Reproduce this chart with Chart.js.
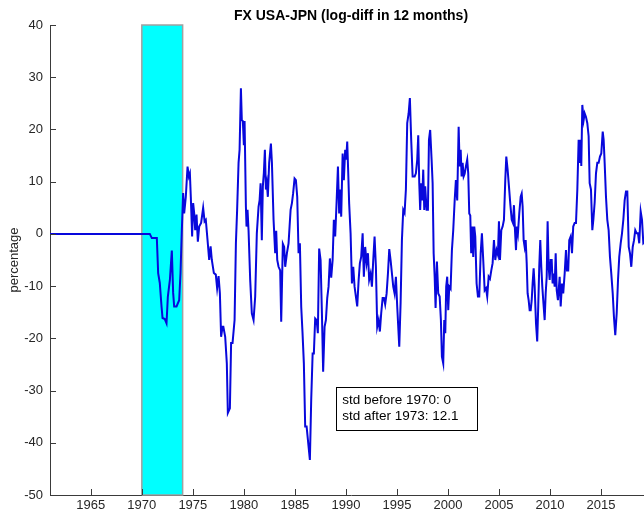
<!DOCTYPE html>
<html>
<head>
<meta charset="utf-8">
<script src="https://cdn.jsdelivr.net/npm/chart.js@4.4.1/dist/chart.umd.min.js"></script>
<style>
  html, body { margin: 0; padding: 0; background: #ffffff; }
  body { width: 644px; height: 513px; overflow: hidden; }
  #wrap { width: 652px; height: 513px; }
</style>
</head>
<body>
<div id="wrap"><canvas id="chart" width="652" height="513"></canvas></div>
<script>
// 12-month log difference of the USD/JPY exchange rate, in percent
const years = [
  1961.0, 1970.78, 1970.98, 1971.47, 1971.60, 1971.76, 1971.93, 1972.03, 1972.25, 1972.42,
  1972.55, 1972.75, 1972.94, 1973.07, 1973.17, 1973.40, 1973.66, 1973.79, 1973.92, 1974.05,
  1974.15, 1974.31, 1974.48, 1974.61, 1974.71, 1974.80, 1974.93, 1975.03, 1975.13, 1975.23,
  1975.36, 1975.49, 1975.62, 1975.81, 1976.01, 1976.15, 1976.27, 1976.44, 1976.60, 1976.74,
  1976.86, 1977.06, 1977.25, 1977.38, 1977.52, 1977.65, 1977.77, 1977.91, 1977.99, 1978.17,
  1978.33, 1978.43, 1978.63, 1978.75, 1978.89, 1979.09, 1979.22, 1979.34, 1979.48, 1979.58,
  1979.71, 1979.80, 1979.90, 1980.00, 1980.07, 1980.20, 1980.26, 1980.36, 1980.46, 1980.62,
  1980.78, 1980.95, 1981.11, 1981.27, 1981.44, 1981.54, 1981.64, 1981.76, 1981.86, 1981.96,
  1982.06, 1982.16, 1982.25, 1982.35, 1982.48, 1982.65, 1982.75, 1982.91, 1983.07, 1983.17,
  1983.27, 1983.40, 1983.56, 1983.66, 1983.82, 1983.95, 1984.05, 1984.22, 1984.38, 1984.48,
  1984.58, 1984.71, 1984.83, 1984.97, 1985.10, 1985.23, 1985.36, 1985.49, 1985.62, 1985.75,
  1985.88, 1986.01, 1986.15, 1986.34, 1986.47, 1986.60, 1986.74, 1986.86, 1986.99, 1987.13,
  1987.25, 1987.38, 1987.52, 1987.65, 1987.77, 1987.91, 1988.04, 1988.17, 1988.30, 1988.43,
  1988.56, 1988.70, 1988.82, 1988.95, 1989.09, 1989.22, 1989.34, 1989.44, 1989.54, 1989.68,
  1989.80, 1989.93, 1990.03, 1990.13, 1990.23, 1990.32, 1990.46, 1990.59, 1990.72, 1990.85,
  1990.98, 1991.11, 1991.25, 1991.37, 1991.50, 1991.64, 1991.76, 1991.89, 1992.03, 1992.16,
  1992.28, 1992.42, 1992.55, 1992.68, 1992.81, 1992.94, 1993.07, 1993.21, 1993.33, 1993.46,
  1993.60, 1993.73, 1993.85, 1993.99, 1994.12, 1994.25, 1994.38, 1994.64, 1994.77, 1994.90,
  1995.03, 1995.23, 1995.36, 1995.49, 1995.62, 1995.75, 1995.88, 1996.01, 1996.15, 1996.27,
  1996.40, 1996.54, 1996.74, 1996.86, 1996.99, 1997.09, 1997.19, 1997.28, 1997.38, 1997.48,
  1997.58, 1997.68, 1997.77, 1997.91, 1998.04, 1998.14, 1998.26, 1998.40, 1998.50, 1998.60,
  1998.70, 1998.79, 1998.92, 1999.05, 1999.19, 1999.31, 1999.41, 1999.54, 1999.64, 1999.74,
  1999.83, 1999.93, 2000.03, 2000.13, 2000.26, 2000.39, 2000.52, 2000.66, 2000.78, 2000.91,
  2001.05, 2001.15, 2001.25, 2001.34, 2001.44, 2001.54, 2001.64, 2001.76, 2001.89, 2001.99,
  2002.09, 2002.19, 2002.28, 2002.38, 2002.48, 2002.58, 2002.68, 2002.81, 2002.94, 2003.07,
  2003.21, 2003.33, 2003.46, 2003.60, 2003.73, 2003.85, 2003.99, 2004.12, 2004.25, 2004.38,
  2004.51, 2004.64, 2004.77, 2004.90, 2005.00, 2005.10, 2005.23, 2005.36, 2005.49, 2005.62,
  2005.72, 2005.85, 2005.98, 2006.11, 2006.25, 2006.37, 2006.47, 2006.57, 2006.67, 2006.76,
  2006.86, 2006.99, 2007.13, 2007.23, 2007.32, 2007.42, 2007.52, 2007.62, 2007.72, 2007.81,
  2007.91, 2008.01, 2008.11, 2008.21, 2008.30, 2008.40, 2008.50, 2008.63, 2008.75, 2008.85,
  2008.95, 2009.05, 2009.15, 2009.25, 2009.34, 2009.48, 2009.58, 2009.68, 2009.77, 2009.87,
  2009.97, 2010.07, 2010.17, 2010.26, 2010.36, 2010.46, 2010.56, 2010.66, 2010.78, 2010.95,
  2011.05, 2011.18, 2011.30, 2011.44, 2011.57, 2011.67, 2011.79, 2011.89, 2012.03, 2012.16,
  2012.28, 2012.42, 2012.55, 2012.68, 2012.81, 2012.91, 2013.01, 2013.07, 2013.17, 2013.30,
  2013.40, 2013.53, 2013.66, 2013.79, 2013.89, 2014.02, 2014.15, 2014.25, 2014.38, 2014.51,
  2014.64, 2014.77, 2014.90, 2015.03, 2015.17, 2015.26, 2015.36, 2015.49, 2015.62, 2015.75,
  2015.88, 2016.01, 2016.15, 2016.27, 2016.40, 2016.54, 2016.67, 2016.79, 2016.93, 2017.06,
  2017.19, 2017.32, 2017.45, 2017.58, 2017.72, 2017.84, 2017.97, 2018.11, 2018.24, 2018.36,
  2018.50, 2018.63, 2018.75, 2018.89, 2019.02, 2019.15, 2019.30
];

const fxDiff = [
  0, 0, -0.8, -0.8, -7.5, -9.4, -13.9, -16.1, -16.3, -17.1,
  -12.0, -8.8, -3.2, -11.3, -13.9, -13.9, -12.7, -7.5, 0.7, 7.8,
  3.9, 7.1, 12.9, 11.0, 11.6, 7.1, -0.5, 5.9, 4.0, 0.7,
  3.7, -1.5, 1.4, 2.1, 5.0, 2.4, 2.7, -1.2, -5.0, -2.4,
  -5.0, -7.5, -7.8, -10.4, -8.1, -11.4, -19.7, -17.8, -17.8, -19.7,
  -24.8, -34.3, -33.4, -20.9, -20.9, -16.5, -1.8, 4.6, 13.6, 16.1,
  27.9, 21.8, 21.6, 17.0, 21.6, 5.2, 1.4, 4.6, 0.6, -8.8,
  -15.2, -16.5, -12.0, 0.1, 5.2, 6.4, 9.7, -1.2, 9.1, 11.7,
  16.1, 8.5, 9.7, 7.1, 13.6, 17.3, 13.6, 2.7, -3.7, 0.6,
  -5.0, -6.3, -7.0, -16.8, -1.9, -2.5, -6.3, -3.7, -1.8, 1.4,
  4.6, 5.9, 7.8, 10.6, 10.3, 7.1, -3.7, -1.8, -13.9, -19.0,
  -24.8, -36.9, -36.9, -40.7, -43.3, -31.8, -22.9, -22.9, -16.2, -16.5,
  -19.0, -2.8, -5.0, -15.2, -26.4, -17.8, -16.5, -12.3, -10.1, -4.7,
  -8.4, -5.0, 2.7, -0.5, 6.2, 12.9, 3.9, 8.5, 3.3, 15.4,
  10.3, 16.1, 14.2, 17.7, 11.6, 5.8, 0.1, -9.5, -6.3, -10.1,
  -12.0, -13.9, -8.8, -5.6, -4.4, 0.1, -8.2, -2.5, -5.6, -3.7,
  -8.8, -7.6, -10.1, -5.0, -0.5, -6.3, -17.8, -16.5, -18.7, -15.2,
  -12.3, -12.3, -13.5, -11.4, -7.6, -2.9, -5.0, -10.1, -11.4, -8.2,
  -13.9, -21.6, -13.3, -1.2, 4.6, 4.0, 8.5, 21.2, 23.1, 26.0,
  18.0, 11.0, 11.0, 11.6, 14.2, 18.9, 9.7, 4.6, 9.7, 6.4,
  12.3, 4.6, 9.1, 4.6, 4.6, 18.0, 19.9, 14.2, 9.7, -3.7,
  -8.2, -14.2, -5.3, -11.4, -12.0, -16.5, -23.5, -24.8, -16.5, -19.0,
  -10.1, -8.2, -14.6, -10.1, -10.5, -3.1, 0.7, 6.4, 10.3, 6.4,
  20.5, 12.9, 16.1, 11.0, 13.6, 11.0, 11.5, 12.9, 14.2, 11.6,
  3.9, 3.5, -3.7, 1.4, -4.4, 1.4, -0.5, -9.5, -12.0, -12.0,
  -3.7, 0.1, -5.0, -10.8, -10.4, -12.0, -8.2, -8.6, -7.0, -5.6,
  -1.2, -5.0, -3.1, -4.0, 2.4, -5.0, 0.7, 1.4, 2.7, 10.3,
  14.8, 12.3, 9.1, 5.8, 2.7, 2.1, 5.5, 0.7, -3.1, 1.4,
  0.1, 3.9, 7.1, 7.7, 5.3, -1.2, -2.5, -1.2, -5.6, -11.4,
  -12.7, -14.6, -14.6, -12.7, -9.5, -6.6, -10.1, -17.1, -20.6, -13.9,
  -6.3, -1.2, -6.3, -10.1, -12.7, -16.5, -11.4, -8.2, 2.4, -6.3,
  -8.8, -5.0, -5.0, -9.5, -7.6, -10.1, -3.7, -10.8, -12.7, -8.2,
  -13.9, -9.5, -11.4, -7.6, -3.1, -7.0, -7.0, -1.2, -0.5, -3.7,
  1.4, 2.1, 2.1, 8.4, 18.0, 13.6, 18.0, 13.0, 24.7, 21.8,
  23.1, 22.4, 21.2, 18.7, 9.7, 8.5, 0.7, 2.7, 6.0, 11.6,
  13.6, 13.6, 14.8, 15.4, 19.6, 18.0, 13.6, 7.1, 2.7, 0.7,
  -4.4, -7.6, -11.4, -15.9, -19.4, -15.2, -8.8, -4.4, -1.8, 0.1,
  2.7, 6.4, 8.1, 8.1, -2.5, -3.7, -6.3, -2.5, -1.2, 0.7,
  0.1, 0.1, -1.8, 4.3, 2.7, -1.8, -1.5
];

// shaded period of the Bretton Woods breakdown
const bandYears = [1970, 1970, 1974, 1974, 1970];
const bandValues = [-50, 40, 40, -50, -50];

const xTickLabels = [1965, 1970, 1975, 1980, 1985, 1990, 1995, 2000, 2005, 2010, 2015];
const yTickLabels = [-50, -40, -30, -20, -10, 0, 10, 20, 30, 40];

const titleText = 'FX USA-JPN (log-diff in 12 months)';
const yAxisLabel = 'percentage';
const statLines = ['std before 1970: 0', 'std after 1973: 12.1'];

const FONT = '"Liberation Sans", Arial, Helvetica, sans-serif';
const AXIS_COLOR = '#3a3a3a';
const TEXT_COLOR = '#262626';

const seriesPoints = years.map((y, i) => ({ x: y, y: fxDiff[i] }));
const bandPoints = bandYears.map((y, i) => ({ x: y, y: bandValues[i] }));

// inward tick marks, title and the statistics box
const decorations = {
  id: 'decorations',
  afterDraw(chart) {
    const { ctx, chartArea: a, scales } = chart;
    ctx.save();
    ctx.strokeStyle = AXIS_COLOR;
    ctx.lineWidth = 1;
    ctx.beginPath();
    xTickLabels.forEach(v => {
      const px = Math.round(scales.x.getPixelForValue(v)) + 0.5;
      ctx.moveTo(px, a.bottom);
      ctx.lineTo(px, a.bottom - 6);
    });
    yTickLabels.forEach(v => {
      const py = Math.round(scales.y.getPixelForValue(v)) + 0.5;
      ctx.moveTo(a.left, py);
      ctx.lineTo(a.left + 6, py);
    });
    ctx.stroke();

    // title centred over the axes
    ctx.fillStyle = '#000';
    ctx.font = 'bold 14px ' + FONT;
    ctx.textAlign = 'center';
    ctx.textBaseline = 'alphabetic';
    ctx.fillText(titleText, (a.left + a.right) / 2, 20);

    // statistics box
    const bx = scales.x.getPixelForValue(1989.05);
    const by = scales.y.getPixelForValue(-29.3);
    const bw = 141, bh = 43;
    ctx.fillStyle = '#ffffff';
    ctx.fillRect(bx, by, bw, bh);
    ctx.strokeStyle = '#000';
    ctx.lineWidth = 1;
    ctx.strokeRect(Math.round(bx) + 0.5, Math.round(by) + 0.5, bw, bh);
    ctx.fillStyle = '#000';
    ctx.font = '13.5px ' + FONT;
    ctx.textAlign = 'left';
    statLines.forEach((t, i) => ctx.fillText(t, bx + 6, by + 17 + i * 16));
    ctx.restore();
  }
};

new Chart(document.getElementById('chart'), {
  type: 'line',
  data: {
    datasets: [
      {
        data: seriesPoints,
        borderColor: '#0808dc',
        borderWidth: 2,
        pointRadius: 0,
        tension: 0,
        fill: false,
        order: 1
      },
      {
        data: bandPoints,
        borderColor: '#a0a0a0',
        borderWidth: 1.5,
        backgroundColor: '#00ffff',
        pointRadius: 0,
        tension: 0,
        fill: 'shape',
        clip: false,
        order: 2
      }
    ]
  },
  options: {
    responsive: false,
    animation: false,
    devicePixelRatio: 1,
    layout: { padding: { top: 25, right: 0, bottom: 0, left: 0 } },
    plugins: {
      legend: { display: false },
      tooltip: { enabled: false },
      title: { display: false }
    },
    scales: {
      x: {
        type: 'linear',
        min: 1961,
        max: 2020,
        afterBuildTicks(scale) { scale.ticks = xTickLabels.map(v => ({ value: v })); },
        afterFit(scale) { scale.height = 18; },
        ticks: {
          autoSkip: false,
          maxRotation: 0,
          padding: 3,
          color: TEXT_COLOR,
          font: { family: FONT, size: 13 },
          callback: v => String(v)
        },
        grid: { display: false, drawTicks: false },
        border: { display: true, color: AXIS_COLOR, width: 1 }
      },
      y: {
        type: 'linear',
        min: -50,
        max: 40,
        afterBuildTicks(scale) { scale.ticks = yTickLabels.map(v => ({ value: v })); },
        afterFit(scale) { scale.width = 50; },
        ticks: {
          padding: 7,
          color: TEXT_COLOR,
          font: { family: FONT, size: 13 },
          callback: v => String(v)
        },
        title: {
          display: true,
          text: yAxisLabel,
          color: TEXT_COLOR,
          font: { family: FONT, size: 13 },
          padding: { top: 7, bottom: 0 }
        },
        grid: { display: false, drawTicks: false },
        border: { display: true, color: AXIS_COLOR, width: 1 }
      }
    }
  },
  plugins: [decorations]
});
</script>
</body>
</html>
